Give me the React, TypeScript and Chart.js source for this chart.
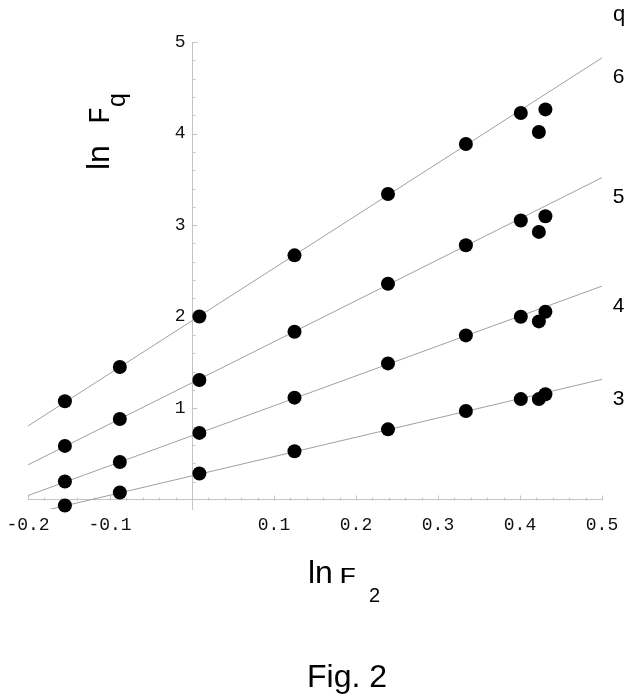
import React, { useEffect, useRef } from 'react';
import { Chart, registerables } from 'chart.js';

Chart.register(...registerables);

// ln F2 values (x) shared by all series
const xValues = [-0.155, -0.088, 0.009, 0.125, 0.239, 0.334, 0.401, 0.423, 0.431];
// ln Fq values for q = 3, 4, 5, 6
const q3Values = [-0.062, 0.08, 0.287, 0.531, 0.77, 0.97, 1.1, 1.1, 1.153];
const q4Values = [0.2, 0.414, 0.731, 1.116, 1.49, 1.796, 2.0, 1.949, 2.054];
const q5Values = [0.589, 0.883, 1.309, 1.836, 2.36, 2.78, 3.05, 2.926, 3.097];
const q6Values = [1.076, 1.45, 2.003, 2.67, 3.34, 3.886, 4.224, 4.017, 4.264];
const qLabels = ['3', '4', '5', '6'];

// fitted straight lines, read at the ends of the x range
const fitStartX = -0.2;
const fitEndX = 0.5;
const fitStartY = [-0.16, 0.047, 0.382, 0.807];
const fitEndY = [1.316, 2.334, 3.519, 4.827];

// tick labels
const xTickValues = [-0.2, -0.1, 0.1, 0.2, 0.3, 0.4, 0.5];
const yTickValues = [1, 2, 3, 4, 5];

const AXIS_COLOR = '#c4c4c4';
const LINE_COLOR = '#a0a0a0';
const MONO = "'Liberation Mono', 'Courier New', monospace";
const SANS = "'Liberation Sans', Arial, sans-serif";
const TICK_FONT_SIZE = 18;

const axisTicksPlugin = {
  id: 'axisTicks',
  beforeDatasetsDraw(chart: any) {
    const { ctx, scales } = chart;
    const xs = scales.x;
    const ys = scales.y;
    const x0 = Math.round(xs.getPixelForValue(0)) + 0.5;
    const y0 = Math.round(ys.getPixelForValue(0)) + 0.5;
    ctx.save();
    ctx.strokeStyle = AXIS_COLOR;
    ctx.lineWidth = 1;
    ctx.beginPath();
    for (let i = -10; i <= 25; i++) {
      if (i === 0) continue;
      const px = Math.round(xs.getPixelForValue(i * 0.02)) + 0.5;
      const len = i % 5 === 0 ? 5 : 3;
      ctx.moveTo(px, y0);
      ctx.lineTo(px, y0 - len);
    }
    for (let i = 1; i <= 25; i++) {
      const py = Math.round(ys.getPixelForValue(i * 0.2)) + 0.5;
      const len = i % 5 === 0 ? 5 : 3;
      ctx.moveTo(x0, py);
      ctx.lineTo(x0 + len, py);
    }
    ctx.stroke();

    // y tick labels, right-aligned a few pixels left of the axis
    ctx.fillStyle = '#111';
    ctx.font = `${TICK_FONT_SIZE}px ${MONO}`;
    ctx.textAlign = 'right';
    ctx.textBaseline = 'middle';
    yTickValues.forEach((v) => {
      ctx.fillText(String(v), x0 - 7, ys.getPixelForValue(v));
    });
    ctx.restore();
  },
};

const textPlugin = {
  id: 'figureText',
  afterDraw(chart: any) {
    const { ctx, scales } = chart;
    const ys = scales.y;
    ctx.save();
    ctx.fillStyle = '#000';
    ctx.textBaseline = 'alphabetic';

    // q labels at the right end of each fitted line
    ctx.textAlign = 'center';
    ctx.font = `22px ${SANS}`;
    ctx.fillText('q', 619, 20.5);
    ctx.font = `21px ${SANS}`;
    qLabels.forEach((lab, i) => {
      ctx.fillText(lab, 618.5, ys.getPixelForValue(fitEndY[i]) + 25.5);
    });

    // x-axis title: ln F_2
    ctx.textAlign = 'left';
    ctx.font = `32px ${SANS}`;
    ctx.fillText('ln', 308, 583);
    ctx.save();
    ctx.translate(339, 583);
    ctx.scale(1.35, 1);
    ctx.font = `22px ${MONO}`;
    ctx.fillText('F', 0, 0);
    ctx.restore();
    ctx.font = `20px ${SANS}`;
    ctx.fillText('2', 369, 602);

    // y-axis title: ln F_q (rotated)
    ctx.save();
    ctx.translate(109, 170);
    ctx.rotate(-Math.PI / 2);
    ctx.font = `32px ${SANS}`;
    ctx.fillText('ln', 0, 0);
    ctx.font = `29px ${MONO}`;
    ctx.fillText('F', 46, 0);
    ctx.font = `25px ${SANS}`;
    ctx.fillText('q', 63, 16);
    ctx.restore();

    // caption
    ctx.textAlign = 'center';
    ctx.font = `32px ${SANS}`;
    ctx.fillText('Fig. 2', 347, 687);
    ctx.restore();
  },
};

export default function App() {
  const ref = useRef<HTMLCanvasElement>(null);

  useEffect(() => {
    const series = [q3Values, q4Values, q5Values, q6Values];
    const lineSets = series.map((_, i) => ({
      label: `fit q=${qLabels[i]}`,
      data: [
        { x: fitStartX, y: fitStartY[i] },
        { x: fitEndX, y: fitEndY[i] },
      ],
      showLine: true,
      borderColor: LINE_COLOR,
      borderWidth: 1,
      pointRadius: 0,
      pointHoverRadius: 0,
      order: 2,
    }));
    const pointSets = series.map((vals, i) => ({
      label: `q=${qLabels[i]}`,
      data: xValues.map((x, j) => ({ x, y: vals[j] })),
      showLine: false,
      backgroundColor: '#000',
      borderColor: '#000',
      borderWidth: 0,
      pointRadius: 7,
      clip: false as any,
      order: 1,
    }));

    const chart = new Chart(ref.current as HTMLCanvasElement, {
      type: 'scatter',
      data: { datasets: [...lineSets, ...pointSets] as any },
      options: {
        responsive: false,
        animation: false,
        events: [],
        layout: { padding: { left: 28, right: 34, top: 42, bottom: 188 } },
        plugins: {
          legend: { display: false },
          tooltip: { enabled: false },
        },
        scales: {
          x: {
            type: 'linear',
            min: -0.2,
            max: 0.5,
            position: { y: 0 } as any,
            afterBuildTicks: (s: any) => {
              s.ticks = xTickValues.map((v) => ({ value: v }));
            },
            grid: {
              display: true,
              drawOnChartArea: false,
              drawTicks: true,
              tickLength: 15,
              tickColor: 'rgba(0,0,0,0)',
            },
            border: { display: true, color: AXIS_COLOR, width: 1 },
            ticks: {
              font: { family: MONO, size: TICK_FONT_SIZE },
              color: '#111',
              padding: 0,
              maxRotation: 0,
              autoSkip: false,
              callback: (v: any) => Number(v).toFixed(1),
            },
          },
          y: {
            type: 'linear',
            min: -0.1,
            max: 5,
            position: { x: 0 } as any,
            afterBuildTicks: (s: any) => {
              s.ticks = yTickValues.map((v) => ({ value: v }));
            },
            grid: { display: true, drawOnChartArea: false, drawTicks: false },
            border: { display: true, color: AXIS_COLOR, width: 1 },
            ticks: { display: false },
          },
        },
      },
      plugins: [axisTicksPlugin, textPlugin],
    });
    return () => chart.destroy();
  }, []);

  return (
    <div style={{ position: 'absolute', left: 0, top: 0, width: 636, height: 697, background: '#fff' }}>
      <canvas ref={ref} width={636} height={697} style={{ display: 'block', width: 636, height: 697 }} />
    </div>
  );
}
